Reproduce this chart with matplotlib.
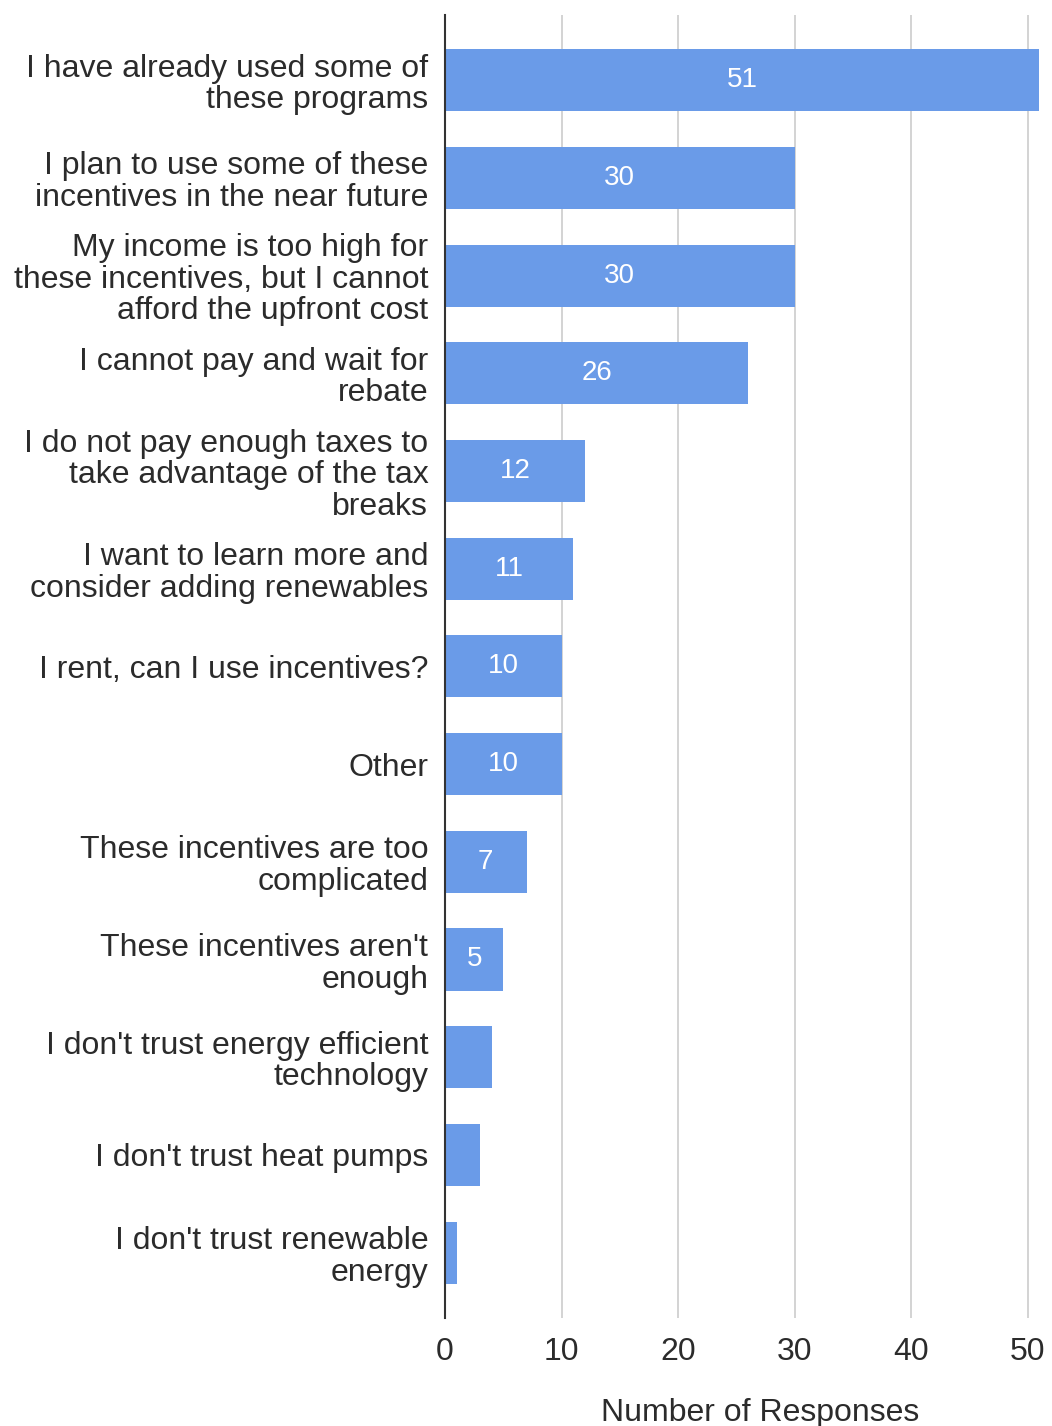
import matplotlib
matplotlib.use("Agg")
import matplotlib.pyplot as plt

plt.rcParams['font.family'] = ['Liberation Sans', 'DejaVu Sans']

categories = [
    "I have already used some of\nthese programs",
    "I plan to use some of these\nincentives in the near future",
    "My income is too high for\nthese incentives, but I cannot\nafford the upfront cost",
    "I cannot pay and wait for\nrebate",
    "I do not pay enough taxes to\ntake advantage of the tax\nbreaks",
    "I want to learn more and\nconsider adding renewables",
    "I rent, can I use incentives?",
    "Other",
    "These incentives are too\ncomplicated",
    "These incentives aren't\nenough",
    "I don't trust energy efficient\ntechnology",
    "I don't trust heat pumps",
    "I don't trust renewable\nenergy",
]
responses = [51, 30, 30, 26, 12, 11, 10, 10, 7, 5, 4, 3, 1]
labeled_min = 5  # values below this have no in-bar label
x_ticks = [0, 10, 20, 30, 40, 50]

bar_color = "#6a9be8"
text_color = "#2b2b2b"

fig = plt.figure(figsize=(10.52, 14.26), dpi=100)
ax = fig.add_axes([0.423, 0.0757, 0.565, 0.914])

y = list(range(len(categories)))
bars = ax.barh(y, responses, height=0.635, color=bar_color, zorder=3)

for bar, v in zip(bars, responses):
    if v >= labeled_min:
        ax.text(bar.get_width() / 2, bar.get_y() + bar.get_height() / 2, str(v),
                ha="center", va="center", color="white", fontsize=20, zorder=4)

ax.set_ylim(len(categories) - 0.33, -0.67)
ax.set_xlim(0, 51.0)
ax.set_yticks(y)
ax.set_yticklabels(categories, fontsize=23, color=text_color, linespacing=1.07)
ax.set_xticks(x_ticks)
ax.set_xticklabels([str(t) for t in x_ticks], fontsize=23, color=text_color)
ax.tick_params(axis="y", length=0, pad=12)
ax.tick_params(axis="x", length=0, pad=14)

ax.grid(axis="x", color="#cccccc", linewidth=1.2, zorder=0)
for side in ("top", "right", "bottom"):
    ax.spines[side].set_visible(False)
ax.spines["left"].set_color("#333333")
ax.spines["left"].set_linewidth(1.5)
ax.spines["left"].set_zorder(5)

ax.set_xlabel("Number of Responses", fontsize=23, color=text_color, labelpad=22,
              x=0.531, ha="center")

fig.savefig("out.png", dpi=100, facecolor="white")
